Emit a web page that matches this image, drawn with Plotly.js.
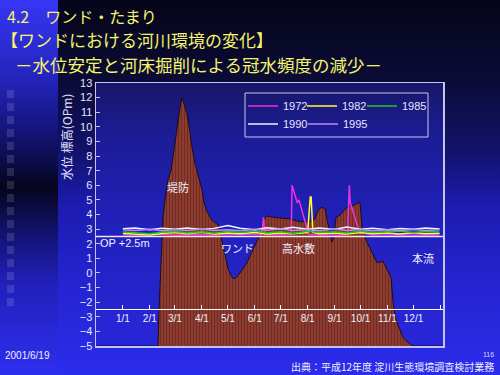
<!DOCTYPE html>
<html><head><meta charset="utf-8">
<script src="https://cdn.plot.ly/plotly-3.0.1.min.js"></script>
<style>
html,body{margin:0;padding:0;width:500px;height:375px;overflow:hidden;background:#10105a;}
#bg{position:absolute;left:0;top:0;width:500px;height:375px;background:linear-gradient(to bottom,#05051a 0%,#0b0b36 21%,#12126a 40%,#1c1cb0 55%,#2424d0 75%,#2c2cec 100%);}
#strip{position:absolute;left:0;top:0;width:58px;height:375px;background:linear-gradient(to bottom,#3636f6 0%,#2424bc 21%,#14147a 35%,#05051e 50%,#12126e 62%,#2020b8 75%,#2a2ae0 93%,#2e2ef0 100%);}
#plotbg{position:absolute;left:96px;top:83px;width:347px;height:263px;background:linear-gradient(to bottom,#17176a 0%,#1c1c96 20%,#2020b8 50%,#2727da 100%);}
.sq{position:absolute;left:7px;width:7px;height:8px;background:rgba(255,255,255,0.13);}
#chart{position:absolute;left:0;top:0;width:500px;height:375px;}
</style></head>
<body>
<div id="bg"></div><div id="strip"></div><div id="plotbg"></div>
<div id="chart"></div>
<script>
// ---- cross-section profile (distance, elevation OP m) ----
const profileDist = [0,62,63,64,65,66,67,69,72,75,78,81,84,86,88,91,94,96,99,102,106,108,111,116,122,124,126,129,132,136,139,144,151,157,162,165,167,171,179,194,204,214,219,222,226,229,231,234,236,238,240,244,251,257,264,266,271,276,281,287,291,295,297,299,301,304,307,311,314,317,347];
const profileElev = [-5,-5,-2.5,-1.0,1.5,3.0,3.8,5.0,6.4,7.0,8.5,9.8,11.3,12.0,11.6,10.9,9.6,8.6,7.5,6.8,5.7,4.8,4.2,3.6,3.3,2.8,2.2,1.1,0.3,-0.3,-0.4,0.0,0.7,1.6,2.3,3.0,3.6,3.9,3.8,3.7,3.5,3.5,3.7,4.3,4.5,4.4,3.6,2.6,2.1,2.5,3.8,3.95,4.5,4.6,4.85,3.1,2.1,1.4,0.7,0.8,0.3,-0.3,-2.0,-3.0,-3.4,-3.9,-4.4,-4.7,-4.85,-5,-5];

// ---- date axis ----
const dateTicks = ['2000-01-01','2000-02-01','2000-03-01','2000-04-01','2000-05-01','2000-06-01','2000-07-01','2000-08-01','2000-09-01','2000-10-01','2000-11-01','2000-12-01','2001-01-01'];
const dateTickText = ['1/1','2/1','3/1','4/1','5/1','6/1','7/1','8/1','9/1','10/1','11/1','12/1',''];

// ---- water levels by year ----
const yearNames = ['1972','1982','1985','1990','1995'];
const yearColors = ['#f030e0','#ffff30','#20c820','#eef6ff','#c088ff'];
const datesCommon = ['2000-01-01','2000-01-15','2000-02-01','2000-02-15','2000-03-01','2000-03-15','2000-04-01','2000-04-15','2000-05-01','2000-05-15','2000-06-01','2000-06-15','2000-07-01','2000-07-15','2000-08-01','2000-08-15','2000-09-01','2000-09-15','2000-10-01','2000-10-15','2000-11-01','2000-11-15','2000-12-01','2000-12-15','2000-12-31'];
const dates1972 = ['2000-01-01','2000-01-20','2000-02-10','2000-03-01','2000-03-20','2000-04-10','2000-05-01','2000-05-20','2000-06-09','2000-06-11','2000-06-13','2000-07-01','2000-07-13','2000-07-14','2000-07-17','2000-07-20','2000-07-22','2000-07-25','2000-07-28','2000-07-31','2000-08-02','2000-08-20','2000-09-05','2000-09-16','2000-09-18','2000-09-19','2000-09-23','2000-09-27','2000-09-30','2000-10-15','2000-11-01','2000-11-20','2000-12-10','2000-12-31'];
const lvl1972 = [2.62,2.6,2.65,2.6,2.63,2.6,2.62,2.65,2.62,3.8,2.65,2.62,2.65,6.0,5.3,4.8,5.0,4.4,3.8,3.2,2.65,2.62,2.6,2.65,6.0,4.8,4.0,3.3,2.75,2.62,2.6,2.62,2.6,2.62];
const dates1982 = ['2000-01-01','2000-01-15','2000-02-01','2000-02-15','2000-03-01','2000-03-15','2000-04-01','2000-04-15','2000-05-01','2000-05-15','2000-06-01','2000-06-15','2000-07-01','2000-07-15','2000-08-01','2000-08-04','2000-08-05','2000-08-07','2000-08-15','2000-09-01','2000-09-15','2000-10-01','2000-10-15','2000-11-01','2000-11-15','2000-12-01','2000-12-15','2000-12-31'];
const lvl1982 = [2.72,2.66,2.6,2.7,2.76,2.68,2.78,2.66,2.74,2.68,2.77,2.66,2.74,2.68,2.76,5.2,5.2,2.77,2.68,2.74,2.66,2.76,2.68,2.74,2.67,2.75,2.68,2.72];
const lvl1985 = [2.8,2.74,2.68,2.79,2.84,2.74,2.82,2.72,2.85,2.76,2.88,2.74,2.82,2.7,2.86,2.76,2.82,2.73,2.85,2.76,2.8,2.87,2.76,2.84,2.8];
const lvl1990 = [3.02,3.07,2.96,3.06,2.99,3.08,2.97,3.05,3.25,3.06,2.96,3.1,3.01,3.12,2.99,3.07,2.97,3.14,2.99,3.06,2.96,3.05,2.99,3.08,3.0];
const lvl1995 = [2.95,2.9,2.99,2.88,2.97,2.91,3.0,2.9,2.96,2.88,2.99,2.92,3.02,2.9,2.97,2.88,3.0,2.91,2.98,2.89,2.96,2.9,2.98,2.91,2.95];

// ---- decorative squares (slide template) ----
for (let i = 0; i < 17; i++) {
  const d = document.createElement('div');
  d.className = 'sq'; d.style.top = (90 + i * 13) + 'px';
  document.body.insertBefore(d, document.getElementById('chart'));
}

const seriesDates = [dates1972, dates1982, datesCommon, datesCommon, datesCommon];
const seriesVals = [lvl1972, lvl1982, lvl1985, lvl1990, lvl1995];
const legendIds = ['legend','legend2','legend3','legend4','legend5'];

const traces = [{
  type:'scatter', mode:'lines', x:profileDist, y:profileElev, xaxis:'x', yaxis:'y',
  fill:'toself', fillcolor:'#8c3b2e',
  fillpattern:{shape:'|', bgcolor:'#8c3b2e', fgcolor:'#6c2a22', size:3, solidity:0.3},
  line:{color:'#1e0a18', width:1}, showlegend:false, hoverinfo:'skip'
}];
for (let i = 0; i < yearNames.length; i++) {
  traces.push({
    type:'scatter', mode:'lines', name:yearNames[i], x:seriesDates[i], y:seriesVals[i],
    xaxis:'x2', yaxis:'y', line:{color:yearColors[i], width:1.5}, legend:legendIds[i]
  });
}

const W = 347, H = 263, L = 96, B = 346;
const px = v => (v - L) / W;
const py = v => (B - v) / H;
const lblFont = {family:'Noto Sans CJK JP', size:11, color:'#f0f0ff'};

// legend entry anchor points (pixel positions of each entry)
const legX = [243, 302, 362, 243, 303];
const legY = [106, 106, 106, 124, 124];

const layout = {
  width:500, height:375,
  margin:{l:96, r:57, t:83, b:29, pad:0},
  paper_bgcolor:'rgba(0,0,0,0)', plot_bgcolor:'rgba(0,0,0,0)',
  font:{family:'Liberation Sans, Arial, sans-serif', color:'#e6e6ff', size:11},
  xaxis:{range:[0,347], showticklabels:false, ticks:'', showgrid:false, zeroline:false,
         showline:true, mirror:true, linecolor:'#c4c4ec', linewidth:1.5},
  xaxis2:{type:'date', overlaying:'x', anchor:'free', position:(-2.5 + 5) / 18, side:'bottom',
          range:['1999-12-01','2001-01-04'], tickmode:'array', tickvals:dateTicks, ticktext:dateTickText,
          ticks:'inside', ticklen:4, tickcolor:'#ffffff', showline:true, linecolor:'#ffffff', linewidth:1,
          showgrid:false, zeroline:false, tickfont:{size:10, color:'#f0f0ff'}},
  yaxis:{range:[-5,13], dtick:1, tick0:0, ticks:'inside', ticklen:4, tickcolor:'#c4c4ec',
         showgrid:false, zeroline:false, showline:true, mirror:true, linecolor:'#c4c4ec', linewidth:1.5,
         tickfont:{size:11, color:'#e6e6ff'}},
  shapes:[
    {type:'line', xref:'paper', yref:'y', x0:0, x1:1, y0:2.5, y1:2.5, line:{color:'#f4e4f4', width:1.5}},
    {type:'rect', xref:'paper', yref:'paper', x0:px(245), x1:px(428), y0:py(137), y1:py(93),
     line:{color:'#c8c8ec', width:1}, fillcolor:'rgba(0,0,0,0)'}
  ],
  annotations:[
    {xref:'paper', yref:'paper', x:px(6), y:py(15.5), xanchor:'left', yanchor:'middle', showarrow:false, borderpad:0,
     text:'4.2　ワンド・たまり', font:{family:'Noto Sans CJK JP', size:16, color:'#f4f46a'}},
    {xref:'paper', yref:'paper', x:px(0), y:py(39.5), xanchor:'left', yanchor:'middle', showarrow:false, borderpad:0,
     text:'【ワンドにおける河川環境の変化】', font:{family:'Noto Sans CJK JP', size:17, color:'#f4f46a'}},
    {xref:'paper', yref:'paper', x:px(14), y:py(64.5), xanchor:'left', yanchor:'middle', showarrow:false, borderpad:0,
     text:'－水位安定と河床掘削による冠水頻度の減少－', font:{family:'Noto Sans CJK JP', size:17.5, color:'#f4f46a'}},
    {xref:'paper', yref:'paper', x:px(66), y:py(137), xanchor:'center', yanchor:'middle', showarrow:false,
     textangle:-90, text:'水位 標高(OPm)', font:{family:'Noto Sans CJK JP', size:12, color:'#e0e0ff'}},
    {xref:'x', yref:'y', x:82, y:5.9, showarrow:false, text:'堤防', font:lblFont},
    {xref:'x', yref:'y', x:141, y:1.7, showarrow:false, text:'ワンド', font:lblFont},
    {xref:'x', yref:'y', x:202, y:1.7, showarrow:false, text:'高水敷', font:lblFont},
    {xref:'x', yref:'y', x:327, y:1.0, showarrow:false, text:'本流', font:lblFont},
    {xref:'x', yref:'y', x:2, y:2.05, xanchor:'left', showarrow:false, text:'OP +2.5m',
     font:{family:'Liberation Sans, Arial', size:11, color:'#f0f0ff'}},
    {xref:'paper', yref:'paper', x:px(3), y:py(355), xanchor:'left', yanchor:'middle', showarrow:false,
     text:'2001/6/19', font:{family:'Liberation Sans, Arial', size:10, color:'#f0f0ff'}},
    {xref:'paper', yref:'paper', x:px(496), y:py(366), xanchor:'right', yanchor:'middle', showarrow:false,
     text:'出典：平成12年度 淀川生態環境調査検討業務', font:{family:'Noto Sans CJK JP', size:10, color:'#f0f0ff'}},
    {xref:'paper', yref:'paper', x:px(488), y:py(354), xanchor:'center', yanchor:'middle', showarrow:false,
     text:'116', font:{family:'Liberation Sans, Arial', size:7, color:'#d8d8f0'}}
  ]
};
for (let i = 0; i < legendIds.length; i++) {
  layout[legendIds[i]] = {orientation:'h', x:px(legX[i]), y:py(legY[i]), xanchor:'left', yanchor:'middle',
    bgcolor:'rgba(0,0,0,0)', borderwidth:0, font:{size:11, color:'#e6e6ff'}, itemwidth:30};
}

Plotly.newPlot('chart', traces, layout, {displayModeBar:false, staticPlot:true});
</script>
</body></html>
